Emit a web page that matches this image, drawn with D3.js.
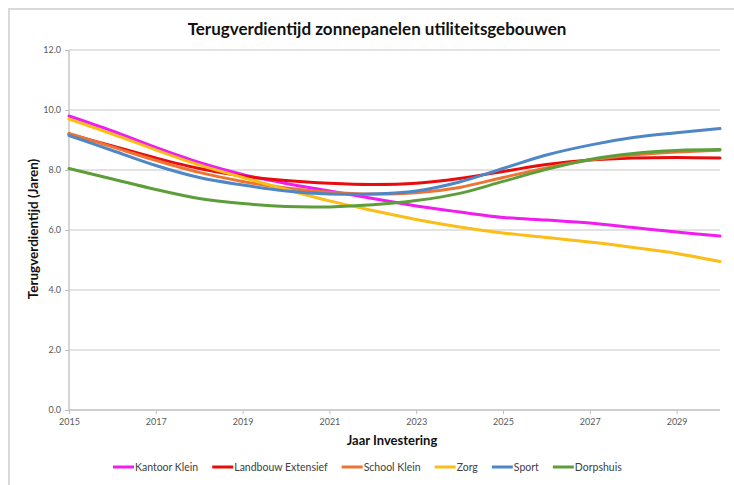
<!DOCTYPE html>
<html>
<head>
<meta charset="utf-8">
<script src="https://cdn.jsdelivr.net/npm/d3@7"></script>
<style>
  body { margin: 0; background: #fff; }
  text { font-family: Lato, "Open Sans", sans-serif; }
</style>
</head>
<body>
<div id="chart"></div>
<script>
"use strict";

// jaren 2015 .. 2030
let years = d3.range(2015, 2031);
let yTicks = [0, 2, 4, 6, 8, 10, 12];
let xTicks = [2015, 2017, 2019, 2021, 2023, 2025, 2027, 2029];

let seriesNames = ["Kantoor Klein", "Landbouw Extensief", "School Klein", "Zorg", "Sport", "Dorpshuis"];
let colors = ["#f01cf0", "#e80c0c", "#ec7534", "#fbbd17", "#4f86c6", "#5d9e3b"];

let kantoorKlein = [9.8, 9.3, 8.75, 8.25, 7.85, 7.55, 7.3, 7.05, 6.8, 6.6, 6.42, 6.33, 6.23, 6.08, 5.93, 5.8];
let landbouwExtensief = [9.2, 8.8, 8.4, 8.05, 7.8, 7.65, 7.56, 7.52, 7.56, 7.72, 7.95, 8.18, 8.33, 8.4, 8.42, 8.4];
let schoolKlein = [9.22, 8.77, 8.32, 7.92, 7.62, 7.4, 7.26, 7.2, 7.24, 7.42, 7.75, 8.07, 8.33, 8.5, 8.6, 8.66];
let zorg = [9.7, 9.2, 8.67, 8.17, 7.75, 7.35, 6.97, 6.65, 6.35, 6.1, 5.9, 5.75, 5.6, 5.42, 5.22, 4.95];
let sport = [9.15, 8.65, 8.15, 7.75, 7.5, 7.3, 7.2, 7.2, 7.3, 7.6, 8.05, 8.5, 8.83, 9.08, 9.24, 9.38];
let dorpshuis = [8.05, 7.7, 7.35, 7.05, 6.88, 6.78, 6.77, 6.84, 6.98, 7.22, 7.62, 8.02, 8.35, 8.55, 8.65, 8.68];

let seriesValues = [kantoorKlein, landbouwExtensief, schoolKlein, zorg, sport, dorpshuis];

var width = 734,
    height = 485,
    plotLeft = 69,
    plotRight = 720,
    plotTop = 50,
    plotBottom = 410;

var svg = d3.select("#chart").append("svg")
  .attr("width", width)
  .attr("height", height);

// kader
svg.append("rect")
  .attr("x", 9).attr("y", 9)
  .attr("width", 900).attr("height", 900)
  .attr("fill", "none")
  .attr("stroke", "#d9d9d9")
  .attr("stroke-width", 2);

var x = d3.scaleLinear().domain([2015, 2030]).range([plotLeft, plotRight]);
var y = d3.scaleLinear().domain([0, 12]).range([plotBottom, plotTop]);

// rasterlijnen
svg.append("g").selectAll("line").data(yTicks.filter(d => d > 0))
  .enter().append("line")
    .attr("x1", plotLeft).attr("x2", plotRight)
    .attr("y1", d => y(d)).attr("y2", d => y(d))
    .attr("stroke", "#c6c6c6")
    .attr("stroke-width", 1.2);

var yAxis = svg.append("g")
  .attr("transform", "translate(" + plotLeft + ",0)")
  .call(d3.axisLeft(y).tickValues(yTicks).tickFormat(d3.format(".1f")).tickSize(4).tickPadding(4));

var xAxis = svg.append("g")
  .attr("transform", "translate(0," + plotBottom + ")")
  .call(d3.axisBottom(x).tickValues(xTicks).tickFormat(d3.format("d")).tickSize(4).tickPadding(5));

[yAxis, xAxis].forEach(function (ax) {
  ax.select(".domain").attr("stroke", "#bfbfbf").attr("stroke-width", 1.3);
  ax.selectAll(".tick line").attr("stroke", "#bfbfbf");
  ax.selectAll(".tick text")
    .attr("fill", "#595959")
    .style("font-size", "9px")
    .style("font-family", "Lato, sans-serif");
});
xAxis.select(".domain").attr("d", "M" + plotLeft + ",0H" + plotRight);
yAxis.select(".domain").attr("d", "M0," + plotTop + "V" + plotBottom);

// lijnen
var line = d3.line()
  .x((d, i) => x(years[i]))
  .y(d => y(d))
  .curve(d3.curveCatmullRom.alpha(0.5));

svg.append("g").selectAll("path").data(seriesValues)
  .enter().append("path")
    .attr("d", d => line(d))
    .attr("fill", "none")
    .attr("stroke", (d, i) => colors[i])
    .attr("stroke-width", 3)
    .attr("stroke-linecap", "round");

// titels
svg.append("text")
  .attr("x", 377).attr("y", 35)
  .attr("text-anchor", "middle")
  .style("font-size", "17px")
  .style("font-weight", "bold")
  .attr("fill", "#111")
  .text("Terugverdientijd zonnepanelen utiliteitsgebouwen");

svg.append("text")
  .attr("x", 392).attr("y", 445)
  .attr("text-anchor", "middle")
  .style("font-size", "13px")
  .style("font-weight", "bold")
  .attr("fill", "#111")
  .text("Jaar Investering");

svg.append("text")
  .attr("transform", "translate(38,229) rotate(-90)")
  .attr("text-anchor", "middle")
  .style("font-size", "13.5px")
  .style("font-weight", "bold")
  .attr("fill", "#111")
  .text("Terugverdientijd (Jaren)");

// legenda
var legend = svg.append("g");
var lx = 113;
seriesNames.forEach(function (name, i) {
  var g = legend.append("g").attr("transform", "translate(" + lx + ",467)");
  g.append("line")
    .attr("x1", 0).attr("x2", 21)
    .attr("y1", 0).attr("y2", 0)
    .attr("stroke", colors[i])
    .attr("stroke-width", 3);
  var t = g.append("text")
    .attr("x", 22).attr("y", 4)
    .style("font-size", "10.5px")
    .attr("fill", "#404040")
    .text(name);
  lx += 22 + t.node().getComputedTextLength() + 14;
});
</script>
</body>
</html>
